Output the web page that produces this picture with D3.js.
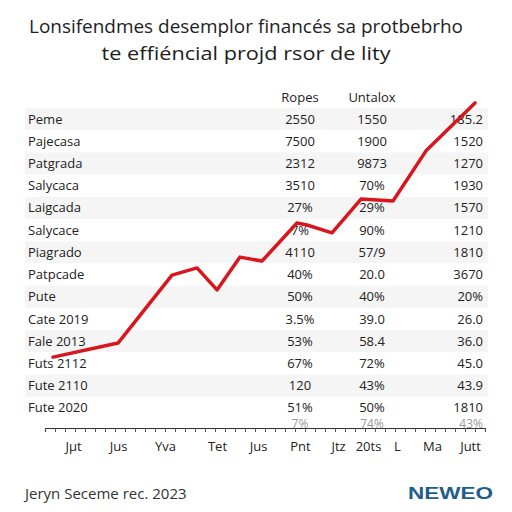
<!DOCTYPE html>
<html>
<head>
<meta charset="utf-8">
<script src="https://cdn.jsdelivr.net/npm/d3@7"></script>
<style>
  html, body { margin: 0; padding: 0; background: #fff; }
  svg { display: block; }
</style>
</head>
<body>
<svg id="chart" width="512" height="512"></svg>
<script>
// ---------- data ----------
const titleLines = ["Lonsifendmes desemplor financés sa protbebrho", "te effiéncial projd rsor de lity"];
const columnHeaders = ["Ropes", "Untalox", ""];
const rowLabels = ["Peme", "Pajecasa", "Patgrada", "Salycaca", "Laigcada", "Salycace", "Piagrado",
  "Patpcade", "Pute", "Cate 2019", "Fale 2013", "Futs 2112", "Fute 2110", "Fute 2020"];
const colRopes = ["2550", "7500", "2312", "3510", "27%", "7%", "4110", "40%", "50%", "3.5%", "53%", "67%", "120", "51%"];
const colUntalox = ["1550", "1900", "9873", "70%", "29%", "90%", "57/9", "20.0", "40%", "39.0", "58.4", "72%", "43%", "50%"];
const colThird = ["185.2", "1520", "1270", "1930", "1570", "1210", "1810", "3670", "20%", "26.0", "36.0", "45.0", "43.9", "1810"];
const hiddenRow = ["7%", "74%", "43%"];

const lineX = [0.8, 7.3, 12.7, 15.2, 17.2, 19.5, 21.7, 25.2, 26.2, 28.7, 31.6, 34.8, 38.1, 43.0];
const lineY = [21.6, 25.9, 46.6, 48.8, 42.1, 52.1, 50.9, 62.5, 61.9, 59.5, 69.8, 69.2, 84.5, 99.1];

const xTickValues = [2.8, 7.3, 12.0, 17.2, 21.3, 25.5, 29.3, 32.3, 35.2, 38.7, 42.5];
const xTickLabels = ["Jμt", "Jus", "Yva", "Tet", "Jus", "Pnt", "Jtz", "20ts", "L", "Ma", "Jutt"];

const footerText = "Jeryn Seceme rec. 2023";
const brandText = "NEWEO";

// ---------- drawing ----------
const svg = d3.select("#chart");
const W = 512;
const font = "'Open Sans', 'Noto Sans', sans-serif";

// title
svg.selectAll("text.title").data(titleLines).join("text")
  .attr("class", "title")
  .attr("x", 246)
  .attr("y", (d, i) => 33 + i * 27)
  .attr("text-anchor", "middle")
  .attr("font-family", font)
  .attr("font-size", 18)
  .attr("fill", "#1e1e1e")
  .attr("textLength", (d, i) => i === 0 ? 434 : 289)
  .attr("lengthAdjust", "spacingAndGlyphs")
  .text(d => d);

// table rows
const rowScale = d3.scaleBand().domain(d3.range(rowLabels.length)).range([108, 419]).padding(0);
const tableLeft = 25, tableRight = 488;

svg.append("g").selectAll("rect").data(rowLabels).join("rect")
  .attr("x", tableLeft)
  .attr("y", (d, i) => rowScale(i))
  .attr("width", tableRight - tableLeft)
  .attr("height", rowScale.bandwidth())
  .attr("fill", (d, i) => i % 2 === 0 ? "#f5f5f5" : "#ffffff");

const rowMid = i => rowScale(i) + rowScale.bandwidth() / 2 + 4.5;

// header
const colX = [300, 372, 483];
const colAnchor = ["middle", "middle", "end"];
svg.append("g").selectAll("text").data(columnHeaders).join("text")
  .attr("x", (d, i) => colX[i])
  .attr("y", 102)
  .attr("text-anchor", (d, i) => colAnchor[i])
  .attr("font-family", font)
  .attr("font-size", 13)
  .attr("fill", "#222")
  .text(d => d);

// row labels
const tableText = svg.append("g")
  .attr("font-family", font)
  .attr("font-size", 13)
  .attr("fill", "#222");

tableText.selectAll("text.lbl").data(rowLabels).join("text")
  .attr("class", "lbl")
  .attr("x", 28)
  .attr("y", (d, i) => rowMid(i))
  .text(d => d);

[colRopes, colUntalox, colThird].forEach((col, c) => {
  tableText.selectAll("text.c" + c).data(col).join("text")
    .attr("class", "c" + c)
    .attr("x", colX[c])
    .attr("y", (d, i) => rowMid(i))
    .attr("text-anchor", colAnchor[c])
    .text(d => d);
});

// partially hidden row behind axis
svg.append("g").selectAll("text").data(hiddenRow).join("text")
  .attr("x", (d, i) => colX[i])
  .attr("y", 428)
  .attr("text-anchor", (d, i) => colAnchor[i])
  .attr("font-family", font)
  .attr("font-size", 12)
  .attr("fill", "#999")
  .text(d => d);

// scales
const x = d3.scaleLinear().domain([0, 44]).range([45, 485]);
const y = d3.scaleLinear().domain([0, 100]).range([428, 100]);

// x axis: minor ticks
const axisY = 428;
const minorAxis = d3.axisBottom(x).tickValues(d3.range(0, 45, 1)).tickSize(4).tickFormat("");
const gMinor = svg.append("g").attr("transform", `translate(0,${axisY})`).call(minorAxis);
gMinor.select(".domain").attr("stroke", "#333").attr("stroke-width", 1.2);
gMinor.selectAll(".tick line").attr("stroke", "#555");

const labelAxis = d3.axisBottom(x).tickValues(xTickValues).tickSize(0).tickPadding(14)
  .tickFormat((d, i) => xTickLabels[i]);
const gLab = svg.append("g").attr("transform", `translate(0,${axisY})`).call(labelAxis);
gLab.select(".domain").remove();
gLab.selectAll("text").attr("font-family", font).attr("font-size", 13).attr("fill", "#222");

// line
const pts = lineX.map((v, i) => [v, lineY[i]]);
svg.append("path")
  .datum(pts)
  .attr("fill", "none")
  .attr("stroke", "#d7161e")
  .attr("stroke-width", 3.5)
  .attr("stroke-linejoin", "round")
  .attr("stroke-linecap", "round")
  .attr("d", d3.line().x(d => x(d[0])).y(d => y(d[1])));

// footer
svg.append("text")
  .attr("x", 25).attr("y", 499)
  .attr("font-family", font)
  .attr("font-size", 15)
  .attr("fill", "#333")
  .text(footerText);

svg.append("text")
  .attr("x", 493).attr("y", 499)
  .attr("text-anchor", "end")
  .attr("font-family", "'Liberation Sans', Arial, sans-serif")
  .attr("font-weight", "bold")
  .attr("font-size", 17)
  .attr("fill", "#1f5d8c")
  .attr("textLength", 85)
  .attr("lengthAdjust", "spacingAndGlyphs")
  .text(brandText);
</script>
</body>
</html>
